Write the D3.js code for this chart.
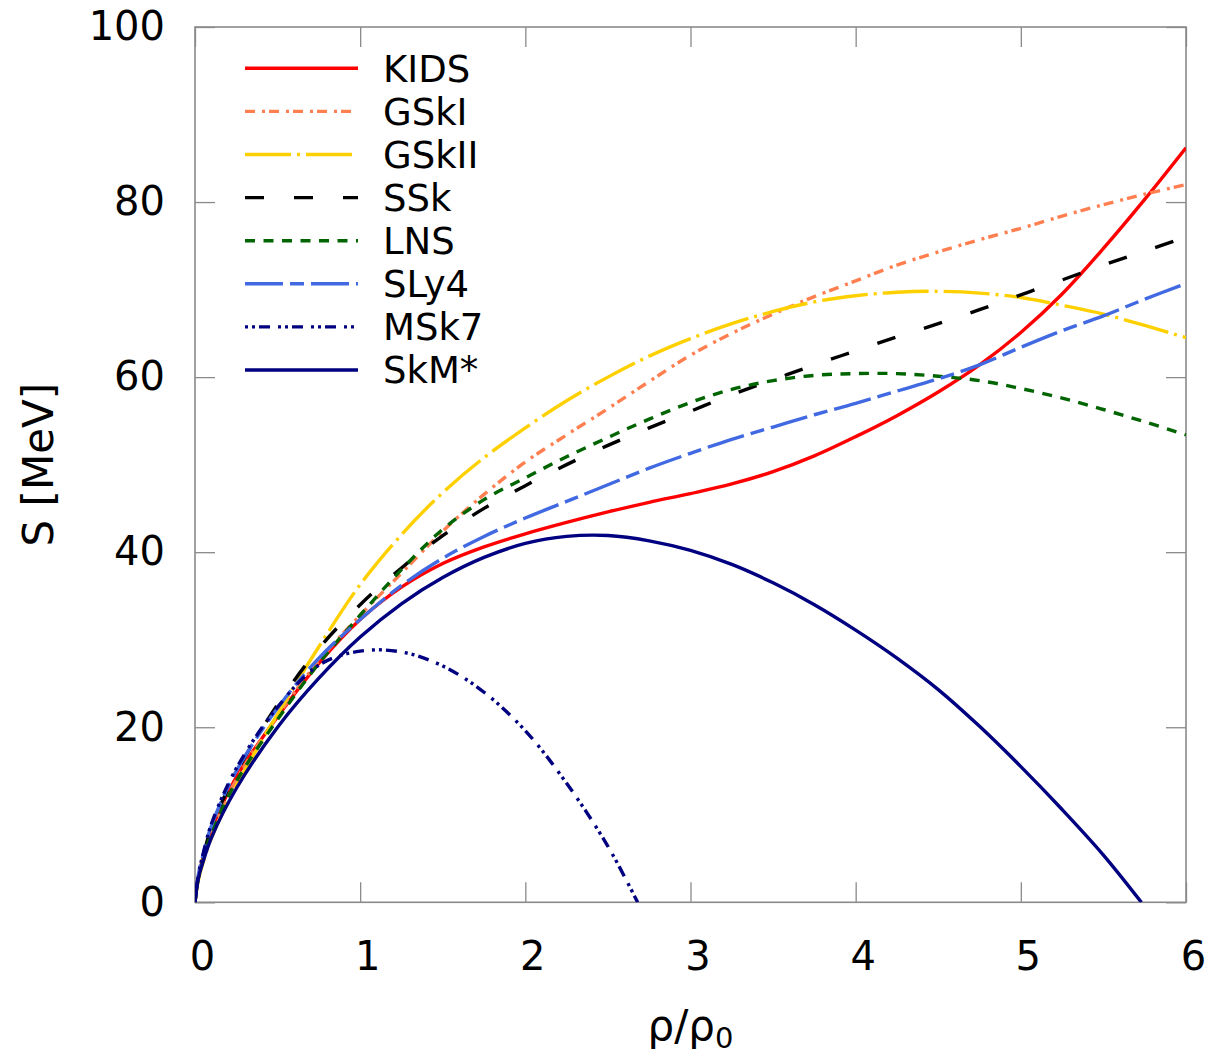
<!DOCTYPE html>
<html>
<head>
<meta charset="utf-8">
<script src="https://cdn.jsdelivr.net/npm/d3@7"></script>
<style>
  body { margin: 0; background: #fff; }
  svg { display: block; }
  text { font-family: "DejaVu Sans", Verdana, sans-serif; fill: #000; }
</style>
</head>
<body>
<svg id="chart" width="1209" height="1060"></svg>
<script>
// Symmetry energy S(rho) for several nuclear energy-density functionals
const rho = [0, 0.02, 0.05, 0.1, 0.25, 0.5, 0.75, 1, 1.25, 1.5, 1.75, 2, 2.25, 2.5, 2.75,
             3, 3.25, 3.5, 3.75, 4, 4.25, 4.5, 4.75, 5, 5.25, 5.5, 5.75, 6];

const sKIDS  = [0, 2.9, 5.2, 8.3, 14.3, 21.2, 27.3, 32.3, 36.0, 38.7, 40.6, 42.1, 43.4, 44.6, 45.7,
                46.7, 47.8, 49.2, 51.0, 53.2, 55.6, 58.3, 61.4, 65.1, 69.5, 74.7, 80.3, 86.2];
const sGSkI  = [0, 2.8, 5.0, 8.0, 14.0, 21.3, 27.6, 32.8, 37.6, 42.4, 46.6, 50.3, 53.4, 56.4, 59.5,
                62.5, 65.0, 67.2, 69.2, 71.0, 72.8, 74.3, 75.7, 77.0, 78.4, 79.7, 80.9, 82.0];
const sGSkII = [0, 2.5, 4.6, 7.4, 13.3, 21.5, 29.2, 36.3, 42.0, 46.8, 50.8, 54.2, 57.3, 60.0, 62.4,
                64.4, 66.1, 67.5, 68.6, 69.3, 69.7, 69.8, 69.6, 69.1, 68.2, 67.2, 65.9, 64.5];
const sSSk   = [0, 3.0, 5.3, 8.6, 14.8, 22.6, 29.0, 34.0, 38.2, 41.9, 45.0, 47.6, 50.0, 52.2, 54.2,
                56.1, 58.0, 59.7, 61.4, 63.0, 64.6, 66.1, 67.7, 69.4, 71.1, 72.8, 74.4, 76.0];
const sLNS   = [0, 2.7, 4.9, 7.9, 13.8, 20.9, 27.3, 32.8, 38.0, 42.6, 46.0, 48.5, 50.9, 53.1, 55.2,
                57.1, 58.6, 59.6, 60.2, 60.4, 60.4, 60.1, 59.6, 58.7, 57.6, 56.3, 54.9, 53.4];
const sSLy4  = [0, 3.1, 5.5, 8.8, 15.0, 22.2, 27.9, 32.3, 36.2, 39.3, 41.8, 43.9, 45.8, 47.7, 49.6,
                51.3, 52.9, 54.3, 55.7, 57.0, 58.4, 59.8, 61.4, 63.4, 65.3, 67.0, 68.9, 70.7];

const rhoMSk7 = [0, 0.02, 0.05, 0.1, 0.25, 0.5, 0.75, 1, 1.25, 1.5, 1.75, 2, 2.25, 2.5, 2.68];
const sMSk7   = [0, 3.1, 5.6, 9.0, 15.3, 22.3, 27.1, 28.7, 28.6, 27.0, 24.0, 19.6, 13.6, 6.4, 0];

const rhoSkMs = [0, 0.02, 0.05, 0.1, 0.25, 0.5, 0.75, 1, 1.25, 1.5, 1.75, 2, 2.25, 2.5, 2.75,
                 3, 3.25, 3.5, 3.75, 4, 4.25, 4.5, 4.75, 5, 5.25, 5.5, 5.73];
const sSkMs   = [0, 2.7, 4.7, 7.4, 13.0, 20.0, 25.6, 30.3, 34.1, 37.1, 39.4, 41.0, 41.8, 41.9, 41.3,
                 40.2, 38.6, 36.5, 34.0, 31.1, 27.9, 24.3, 20.1, 15.5, 10.6, 5.4, 0];

const xTicks = [0, 1, 2, 3, 4, 5, 6];
const yTicks = [0, 20, 40, 60, 80, 100];

const series = [
  { name: "KIDS",  xs: rho,     ys: sKIDS,  color: "#ff0000", dash: null },
  { name: "GSkI",  xs: rho,     ys: sGSkI,  color: "#ff7f50", dash: "10,7,3,4" },
  { name: "GSkII", xs: rho,     ys: sGSkII, color: "#ffd000", dash: "46,6,3,6" },
  { name: "SSk",   xs: rho,     ys: sSSk,   color: "#000000", dash: "19,30" },
  { name: "LNS",   xs: rho,     ys: sLNS,   color: "#006400", dash: "10,8.5" },
  { name: "SLy4",  xs: rho,     ys: sSLy4,  color: "#4169e1", dash: "38,7,14,7" },
  { name: "MSk7",  xs: rhoMSk7, ys: sMSk7,  color: "#000080", dash: "3,4,3,4,11,8" },
  { name: "SkM*",  xs: rhoSkMs, ys: sSkMs,  color: "#000080", dash: null }
];

const svg = d3.select("#chart");
const plot = { left: 195, right: 1186, top: 27, bottom: 902.3 };

const x = d3.scaleLinear().domain([0, 6]).range([plot.left, plot.right]);
const y = d3.scaleLinear().domain([0, 100]).range([plot.bottom, plot.top]);

svg.append("defs").append("clipPath").attr("id", "plot-clip")
  .append("rect")
  .attr("x", plot.left).attr("y", plot.top)
  .attr("width", plot.right - plot.left).attr("height", plot.bottom - plot.top);

const frameColor = "#8a8a8a";

function styleAxis(g) {
  g.select(".domain").remove();
  g.selectAll(".tick line").attr("stroke", frameColor).attr("stroke-width", 1.3);
  g.selectAll(".tick text").attr("font-size", 40).attr("fill", "#000")
    .attr("font-family", '"DejaVu Sans", Verdana, sans-serif');
}

svg.append("g").attr("transform", `translate(0,${plot.bottom})`)
  .call(d3.axisBottom(x).tickValues(xTicks).tickSize(-20).tickPadding(39).tickFormat(d3.format("d")))
  .call(styleAxis)
  .call(g => g.selectAll(".tick text").attr("dx", 7));

svg.append("g").attr("transform", `translate(0,${plot.top})`)
  .call(d3.axisTop(x).tickValues(xTicks).tickSize(-20).tickFormat(""))
  .call(styleAxis);

svg.append("g").attr("transform", `translate(${plot.left},0)`)
  .call(d3.axisLeft(y).tickValues(yTicks).tickSize(-20).tickPadding(30).tickFormat(d3.format("d")))
  .call(styleAxis);

svg.append("g").attr("transform", `translate(${plot.right},0)`)
  .call(d3.axisRight(y).tickValues(yTicks).tickSize(-20).tickFormat(""))
  .call(styleAxis);

// plot frame
svg.append("rect")
  .attr("x", plot.left).attr("y", plot.top)
  .attr("width", plot.right - plot.left).attr("height", plot.bottom - plot.top)
  .attr("fill", "none").attr("stroke", frameColor).attr("stroke-width", 1.6);

// curves
const line = d3.line()
  .x(d => x(d[0]))
  .y(d => y(d[1]))
  .curve(d3.curveCatmullRom.alpha(0.5));

const curves = svg.append("g").attr("clip-path", "url(#plot-clip)");
series.forEach(s => {
  const pts = s.xs.map((v, i) => [v, s.ys[i]]);
  curves.append("path")
    .datum(pts)
    .attr("d", line)
    .attr("fill", "none")
    .attr("stroke", s.color)
    .attr("stroke-width", 3.4)
    .attr("stroke-dasharray", s.dash)
    .attr("stroke-linecap", "butt")
    .attr("stroke-linejoin", "round");
});

// legend
const legend = svg.append("g");
series.forEach((s, i) => {
  const ly = 68.3 + i * 43.1;
  legend.append("line")
    .attr("x1", 245).attr("x2", 358).attr("y1", ly).attr("y2", ly)
    .attr("stroke", s.color).attr("stroke-width", 3.4)
    .attr("stroke-dasharray", s.dash);
  legend.append("text")
    .attr("x", 383).attr("y", ly).attr("dy", "0.36em")
    .attr("font-size", 37)
    .text(s.name);
});

// axis titles
svg.append("text")
  .attr("transform", `translate(38,${(plot.top + plot.bottom) / 2}) rotate(-90)`)
  .attr("text-anchor", "middle")
  .attr("dominant-baseline", "central")
  .attr("font-size", 42)
  .text("S [MeV]");

const xt = svg.append("text")
  .attr("x", (plot.left + plot.right) / 2)
  .attr("y", 1040)
  .attr("text-anchor", "middle")
  .attr("font-size", 42);
xt.append("tspan").text("ρ/ρ");
xt.append("tspan").attr("font-size", 29).attr("dy", 8).text("0");
</script>
</body>
</html>
